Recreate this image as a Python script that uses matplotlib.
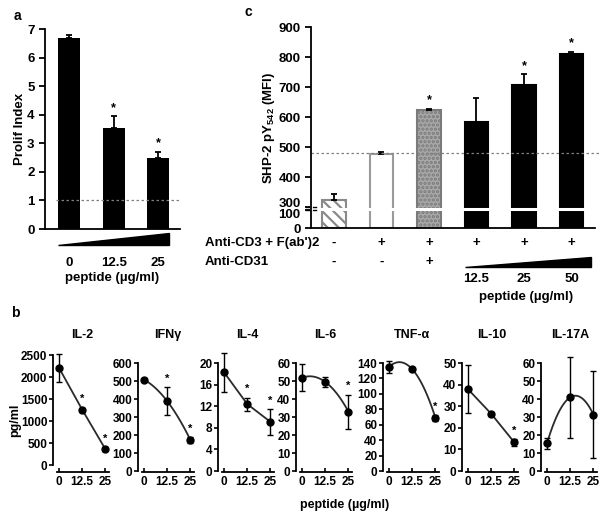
import numpy as np
import matplotlib
matplotlib.use("Agg")
import matplotlib.pyplot as plt
from matplotlib.transforms import blended_transform_factory as blend, ScaledTranslation

plt.rcParams['font.family'] = ['Liberation Sans', 'DejaVu Sans']
plt.rcParams['font.weight'] = 'bold'
plt.rcParams['mathtext.fontset'] = 'custom'
plt.rcParams['mathtext.rm'] = 'Liberation Sans:bold'
plt.rcParams['mathtext.bf'] = 'Liberation Sans:bold'
plt.rcParams['hatch.linewidth'] = 1.6
plt.rcParams['axes.linewidth'] = 1.3

# ---------- data ----------
# panel a
a_doses = ["0", "12.5", "25"]
a_prolif = [6.67, 3.53, 2.48]
a_err = [0.12, 0.42, 0.22]
a_sig = [False, True, True]

# panel c
c_values = [325, 478, 622, 585, 708, 811]
c_err = [20, 4, 6, 80, 34, 7]
c_sig = [False, False, True, False, True, True]
c_cd3 = ["-", "+", "+", "+", "+", "+"]
c_cd31 = ["-", "-", "+"]
c_peptide = ["12.5", "25", "50"]
c_baseline = 480

# panel b
b_doses = [0, 12.5, 25]
b_names = ["IL-2", "IFNγ", "IL-4", "IL-6", "TNF-α", "IL-10", "IL-17A"]
b_means = [[2210, 1258, 358],
           [508, 388, 172],
           [18.3, 12.4, 9.1],
           [51.8, 49.5, 33],
           [135, 132, 69],
           [37.9, 26.5, 13.2],
           [15.3, 40.9, 31.3]]
b_errs = [[320, 45, 40],
          [8, 77, 18],
          [3.6, 1.2, 2.4],
          [7.5, 3, 9.5],
          [8, 2, 4],
          [11, 1, 1.5],
          [3.2, 22.7, 24.3]]
b_sig = [[False, True, True],
         [False, True, True],
         [False, True, True],
         [False, False, True],
         [False, False, True],
         [False, False, True],
         [False, False, False]]
b_ymax = [2500, 600, 20, 60, 140, 50, 60]
b_ystep = [500, 100, 4, 10, 20, 10, 10]
b_smooth = [False, True, False, True, True, False, True]

# ---------- figure ----------
W, H = 609, 517
fig = plt.figure(figsize=(W / 100, H / 100), dpi=100)


def px_axes(left, top, right, bottom):
    return fig.add_axes([left / W, 1 - bottom / H, (right - left) / W, (bottom - top) / H])


def star(ax, x, y, size=9):
    ax.annotate("*", (x, y), xytext=(0, 6), textcoords="offset points",
                ha="center", va="center", fontsize=size, fontweight="bold",
                annotation_clip=False)


# ===== panel a =====
ax = px_axes(45, 29, 180, 229)
xa = np.arange(len(a_prolif))
ax.bar(xa, a_prolif, width=0.49, color="black")
ax.errorbar(xa, a_prolif, yerr=[np.zeros(3), a_err], fmt="none", ecolor="black",
            elinewidth=1.3, capsize=2.5, capthick=1.3)
for i in range(3):
    if a_sig[i]:
        star(ax, xa[i], a_prolif[i] + a_err[i])
ax.hlines(1, -0.3, 2.5, colors="gray", linestyles=(0, (2, 2)), linewidth=0.9)
ax.set_xlim(-0.54, 2.49)
ax.set_ylim(0, 7)
ax.set_yticks(range(8))
ax.set_xticks(xa, a_doses)
ax.tick_params(axis="x", length=0, pad=20, labelsize=9.5)
ax.tick_params(axis="y", length=4, width=1.3, labelsize=9.5)
ax.spines[["top", "right"]].set_visible(False)
ax.set_xlabel("peptide (µg/ml)", fontsize=9.5, fontweight="bold", labelpad=2)
ax.set_ylabel("Prolif Index", fontsize=9.5, fontweight="bold", labelpad=1)
tr = blend(ax.transData, ax.transAxes)
ax.fill([-0.25, 2.25, 2.25], [-0.08, -0.08, -0.02], color="black", transform=tr, clip_on=False)
fig.text(17 / W, 1 - 16 / H, "a", fontsize=10, fontweight="bold", ha="center", va="center")

# ===== panel c =====
def fwd(v):
    v = np.asarray(v, dtype=float)
    return np.where(v <= 100, v * 0.6,
                    np.where(v <= 300, 60 + (v - 100) * 0.05, 70 + (v - 300)))


def inv(f):
    f = np.asarray(f, dtype=float)
    return np.where(f <= 60, f / 0.6,
                    np.where(f <= 70, 100 + (f - 60) / 0.05, 300 + (f - 70)))


ax = px_axes(311, 27, 595, 228)
ax.set_yscale("function", functions=(fwd, inv))
xc = np.arange(len(c_values))
faces = ["white", "white", "#a9a9a9", "black", "black", "black"]
edges = ["#8a8a8a", "#9a9a9a", "#7a7a7a", "black", "black", "black"]
hatches = ["\\\\\\", None, "....", None, None, None]
for i in range(len(c_values)):
    ax.bar(xc[i], c_values[i], width=0.5, color=faces[i], edgecolor=edges[i],
           hatch=hatches[i], linewidth=1.5)
ax.errorbar(xc, c_values, yerr=[np.zeros(len(c_err)), c_err], fmt="none", ecolor="black",
            elinewidth=1.3, capsize=2.5, capthick=1.3)
for i in range(len(c_values)):
    if c_sig[i]:
        star(ax, xc[i], c_values[i] + c_err[i])
ax.axhline(c_baseline, xmax=1.02, color="gray", linestyle=(0, (2, 2)), linewidth=0.9, clip_on=False)
ax.axhline(200, color="white", linewidth=2.2)
ax.set_xlim(-0.484, 5.495)
ax.set_ylim(0, 900)
ax.set_yticks([0, 100, 300, 400, 500, 600, 700, 800, 900])
ax.set_yticklabels(["0", "100", "300", "400", "500", "600", "700", "800", "900"])
ax.set_xticks([])
ax.minorticks_off()
ax.tick_params(axis="y", length=4, width=1.3, labelsize=9.5)
# pull the two labels next to the break apart a little
labs = ax.get_yticklabels()
labs[1].set_transform(labs[1].get_transform() + ScaledTranslation(0, -2.5 / 72, fig.dpi_scale_trans))
labs[2].set_transform(labs[2].get_transform() + ScaledTranslation(0, 3.5 / 72, fig.dpi_scale_trans))
ax.spines[["top", "right"]].set_visible(False)
ax.set_ylabel(r"SHP-2 pY$_{\mathbf{542}}$ (MFI)", fontsize=9.5, fontweight="bold", labelpad=1)
# axis break mark
tra = blend(ax.transAxes, ax.transData)
ax.plot([-0.018, 0.018], [120, 120], color="black", lw=1, transform=tra, clip_on=False)
ax.plot([-0.018, 0.018], [280, 280], color="black", lw=1, transform=tra, clip_on=False)
ax.plot([0, 0], [130, 270], color="white", lw=2, transform=tra, clip_on=False)

tr = blend(ax.transData, ax.transAxes)
for i, s in enumerate(c_cd3):
    ax.text(xc[i], -0.075, s, transform=tr, ha="center", va="center", fontsize=9.5)
for i, s in enumerate(c_cd31):
    ax.text(xc[i], -0.17, s, transform=tr, ha="center", va="center", fontsize=9.5)
for i, s in enumerate(c_peptide):
    ax.text(xc[3 + i], -0.254, s, transform=tr, ha="center", va="center", fontsize=9.5)
ax.text(4.04, -0.343, "peptide (µg/ml)", transform=tr, ha="center", va="center", fontsize=9.5)
ax.fill([2.76, 5.41, 5.41], [-0.194, -0.194, -0.144], color="black", transform=tr, clip_on=False)
fig.text(205 / W, 1 - 243 / H, "Anti-CD3 + F(ab')2", fontsize=9.5, fontweight="bold", va="center")
fig.text(205 / W, 1 - 262 / H, "Anti-CD31", fontsize=9.5, fontweight="bold", va="center")
fig.text(248 / W, 1 - 12 / H, "c", fontsize=10, fontweight="bold", ha="center", va="center")

# ===== panel b =====
b_left = [53, 138, 218, 296, 383, 462, 541]
for k in range(len(b_names)):
    if k == 0:
        top, bottom, off = 355, 465, 5
    else:
        top, bottom, off = 363, 471, 0.7
    ax = px_axes(b_left[k], top, b_left[k] + 58, bottom)
    m = np.array(b_means[k])
    e = np.array(b_errs[k])
    if b_smooth[k]:
        coef = np.polyfit(b_doses, m, 2)
        xs = np.linspace(b_doses[0], b_doses[-1], 80)
        ax.plot(xs, np.polyval(coef, xs), color="#2a2a2a", lw=1.3, clip_on=False)
    else:
        ax.plot(b_doses, m, color="#2a2a2a", lw=1.3, clip_on=False)
    ax.errorbar(b_doses, m, yerr=e, fmt="o", color="black", ms=5, elinewidth=1,
                capsize=2, capthick=1, clip_on=False)
    for i in range(3):
        if b_sig[k][i]:
            star(ax, b_doses[i], m[i] + e[i], size=8)
    ax.set_xlim(-3.2, 28)
    ax.set_ylim(0, b_ymax[k])
    ax.set_yticks(np.arange(0, b_ymax[k] + 1e-9, b_ystep[k]))
    ax.set_xticks(b_doses, ["0", "12.5", "25"])
    ax.spines[["top", "right"]].set_visible(False)
    ax.spines["bottom"].set_position(("outward", off))
    ax.spines["bottom"].set_bounds(-1, 27)
    ax.tick_params(axis="y", length=3, width=1.2, labelsize=8.5, pad=1)
    ax.tick_params(axis="x", length=3, width=1.2, direction="in", labelsize=8.5, pad=3)
    fig.text((b_left[k] + 6 + 23.5) / W, 1 - 335 / H, b_names[k], fontsize=9,
             fontweight="bold", ha="center", va="center")

fig.text(15 / W, 1 - 420 / H, "pg/ml", rotation=90, fontsize=9, fontweight="bold",
         ha="center", va="center")
fig.text(345 / W, 1 - 505 / H, "peptide (µg/ml)", fontsize=9, fontweight="bold",
         ha="center", va="center")
fig.text(15 / W, 1 - 313 / H, "b", fontsize=10, fontweight="bold", ha="center", va="center")

fig.savefig("out.png", dpi=100)
